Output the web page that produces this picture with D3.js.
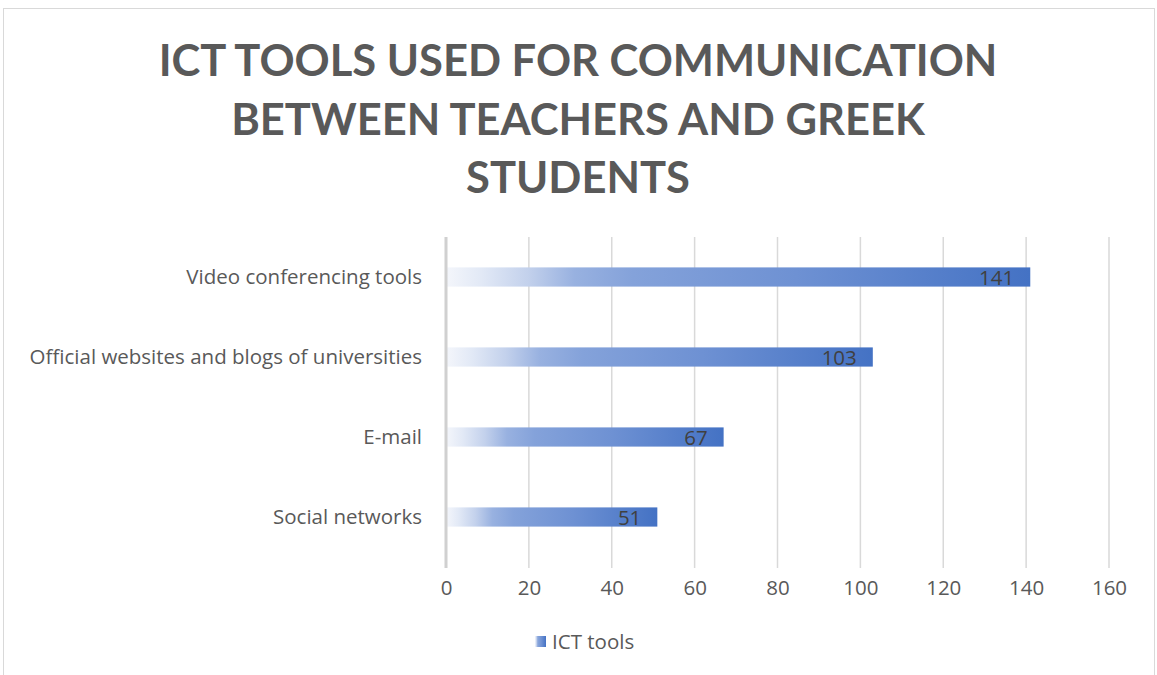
<!DOCTYPE html>
<html>
<head>
<meta charset="utf-8">
<script src="https://cdn.jsdelivr.net/npm/d3@7"></script>
<style>
  html, body { margin: 0; padding: 0; background: #ffffff; }
  svg { display: block; }
</style>
</head>
<body>
<svg id="chart" width="1157" height="675"></svg>
<script>
// Chart data
const categories = ["Video conferencing tools", "Official websites and blogs of universities", "E-mail", "Social networks"];
const values = [141, 103, 67, 51];
const tickValues = [0, 20, 40, 60, 80, 100, 120, 140, 160];
const seriesName = "ICT tools";
const titleLines = ["ICT TOOLS USED FOR COMMUNICATION", "BETWEEN TEACHERS AND GREEK", "STUDENTS"];

const W = 1157, H = 675;
const svg = d3.select("#chart");
const TITLE_FONT = "Lato, 'Open Sans', 'Liberation Sans', sans-serif";
const FONT = "'Open Sans', Lato, 'Liberation Sans', sans-serif";
const TEXT = "#595959";
const LABEL_SIZE = 20.5;

// Chart frame
svg.append("rect")
  .attr("x", 3.5).attr("y", 8.5)
  .attr("width", 1151).attr("height", 700)
  .attr("fill", "#ffffff")
  .attr("stroke", "#d9d9d9").attr("stroke-width", 1);

// Gradient used by the bars and legend swatch
const defs = svg.append("defs");
const grad = defs.append("linearGradient")
  .attr("id", "barGrad")
  .attr("x1", "0%").attr("x2", "100%").attr("y1", "0%").attr("y2", "0%");
[
  [0, "#f4f6fb"],
  [0.06, "#e2e9f6"],
  [0.14, "#c3d1ec"],
  [0.22, "#98b1e0"],
  [0.32, "#84a2da"],
  [0.6, "#6e91d3"],
  [1, "#4472c4"]
].forEach(([o, c]) => grad.append("stop").attr("offset", o).attr("stop-color", c));

// Title
svg.append("g").selectAll("text")
  .data(titleLines)
  .join("text")
  .attr("x", 578)
  .attr("y", (d, i) => 76 + i * 58.5)
  .attr("text-anchor", "middle")
  .attr("font-family", TITLE_FONT)
  .attr("font-weight", 700)
  .attr("font-size", 43.5)
  .attr("fill", TEXT)
  .text(d => d);

// Scales
const x = d3.scaleLinear().domain([0, 160]).range([446, 1109]);
const y = d3.scaleBand().domain(categories).range([237, 557]).paddingInner(0.76).paddingOuter(0.38);

// Gridlines
svg.append("g").selectAll("line")
  .data(tickValues.filter(t => t !== 0))
  .join("line")
  .attr("x1", d => x(d)).attr("x2", d => x(d))
  .attr("y1", 237).attr("y2", 568)
  .attr("stroke", "#d9d9d9").attr("stroke-width", 1.5);

// Bars
svg.append("g").selectAll("rect")
  .data(values)
  .join("rect")
  .attr("x", x(0))
  .attr("y", (d, i) => y(categories[i]))
  .attr("width", d => x(d) - x(0))
  .attr("height", y.bandwidth())
  .attr("fill", "url(#barGrad)");

// Category axis line
svg.append("line")
  .attr("x1", x(0)).attr("x2", x(0))
  .attr("y1", 237).attr("y2", 568)
  .attr("stroke", "#d0d0d0").attr("stroke-width", 3);

// Value labels (inside end)
svg.append("g").selectAll("text")
  .data(values)
  .join("text")
  .attr("x", d => x(d) - 16)
  .attr("y", (d, i) => y(categories[i]) + y.bandwidth() / 2 + 8)
  .attr("text-anchor", "end")
  .attr("font-family", FONT)
  .attr("font-size", LABEL_SIZE)
  .attr("fill", "#404040")
  .text(d => d);

// Category labels
const yAxis = d3.axisLeft(y).tickSize(0).tickPadding(0);
const gy = svg.append("g").attr("transform", "translate(422,0)").call(yAxis);
gy.select(".domain").remove();
gy.selectAll("text")
  .attr("font-family", FONT)
  .attr("font-size", LABEL_SIZE)
  .attr("fill", TEXT)
  .attr("dy", "0.35em");

// Value axis labels
const xAxis = d3.axisBottom(x).tickValues(tickValues).tickSize(0).tickPadding(0);
const gx = svg.append("g").attr("transform", "translate(0,588)").call(xAxis);
gx.select(".domain").remove();
gx.selectAll("text")
  .attr("font-family", FONT)
  .attr("font-size", LABEL_SIZE)
  .attr("fill", TEXT)
  .attr("dy", "0.35em");

// Legend
const legend = svg.append("g").attr("transform", "translate(535,636)");
legend.append("rect")
  .attr("width", 11).attr("height", 11)
  .attr("fill", "url(#barGrad)");
legend.append("text")
  .attr("x", 17).attr("y", 6)
  .attr("dy", "0.35em")
  .attr("font-family", FONT)
  .attr("font-size", LABEL_SIZE)
  .attr("fill", TEXT)
  .text(seriesName);
</script>
</body>
</html>
